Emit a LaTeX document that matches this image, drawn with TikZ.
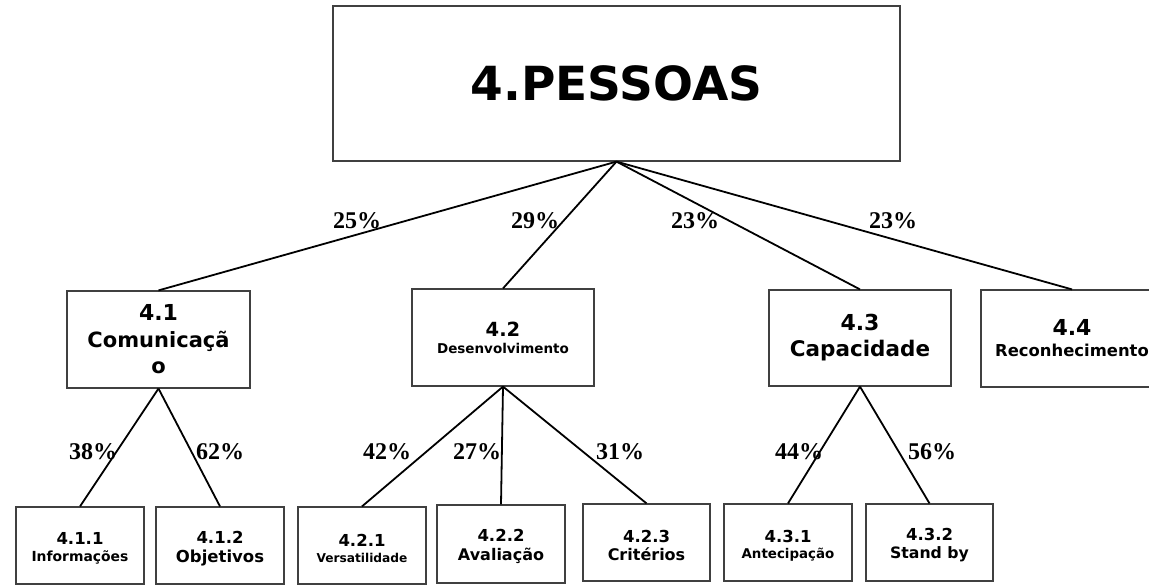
\documentclass[tikz,border=0pt]{standalone}
\usepackage{fontspec}
\setsansfont{DejaVu Sans}
\newfontfamily\pctfont{Liberation Serif}
\newcommand\fsz[2]{\fontsize{#1}{#2}\selectfont}
\newcommand\lift[1]{\rule{0pt}{#1pt}}

\begin{document}
\begin{tikzpicture}[x=1pt, y=-1pt,
    box/.style={draw=black!75, line width=1.2pt, align=center, inner sep=0pt},
    skip/.style={font=\sffamily\bfseries\fsz{12}{#1}},
    link/.style={line width=1.8pt},
    pct/.style={font=\pctfont\bfseries\fsz{24}{26}, inner sep=0pt}]
    \useasboundingbox (0,0) rectangle (1149,584);

    % Top box
    \node[box, skip=50, minimum width=567, minimum height=155] (pes) at (616.5,83.5) {\fsz{47}{50}4.PESSOAS};

    % Second level
    \node[box, skip=26.5, minimum width=183, minimum height=97] (c41) at (158.5,339.5) {\fsz{22}{26.5}4.1\\\fsz{21}{26.5}Comunicaçã\\\fsz{21}{26.5}o};
    \node[box, skip=17, minimum width=182, minimum height=97] (c42) at (503,337.5) {\fsz{19.5}{17}4.2\\\fsz{13.5}{17}Desenvolvimento};
    \node[box, skip=26, minimum width=182, minimum height=96] (c43) at (860,338) {\fsz{22}{26}4.3\\\fsz{21.5}{26}Capacidade};
    \node[box, skip=21, minimum width=182, minimum height=97] (c44) at (1072,338.5) {\fsz{22}{21}4.4\\\fsz{16.4}{21}Reconhecimento};

    % Third level
    \node[box, skip=17, minimum width=128, minimum height=77] (c411) at (80,545.5) {\fsz{16.5}{17}\lift{18}4.1.1\\\fsz{13.9}{17}Informações};
    \node[box, skip=19, minimum width=128, minimum height=77] (c412) at (220,545.5) {\fsz{16.5}{19}\lift{18}4.1.2\\\fsz{16.5}{19}Objetivos};
    \node[box, skip=16, minimum width=128, minimum height=77] (c421) at (362,545.5) {\fsz{16.5}{16}\lift{18}4.2.1\\\fsz{12.2}{16}Versatilidade};
    \node[box, skip=19, minimum width=128, minimum height=78] (c422) at (501,544) {\fsz{16.5}{19}\lift{18}4.2.2\\\fsz{16}{19}Avaliação};
    \node[box, skip=18, minimum width=127, minimum height=77] (c423) at (646.5,542.5) {\fsz{16.5}{18}\lift{18}4.2.3\\\fsz{16}{18}Critérios};
    \node[box, skip=16, minimum width=128, minimum height=77] (c431) at (788,542.5) {\fsz{16.5}{16}\lift{18}4.3.1\\\fsz{13.4}{16}Antecipação};
    \node[box, skip=18, minimum width=127, minimum height=77] (c432) at (929.5,542.5) {\fsz{16.5}{18}\lift{18}4.3.2\\\fsz{15.7}{18}Stand by};

    % Links
    \draw[link] (pes.south) -- (c41.north);
    \draw[link] (pes.south) -- (c42.north);
    \draw[link] (pes.south) -- (c43.north);
    \draw[link] (pes.south) -- (c44.north);
    \draw[link] (c41.south) -- (c411.north);
    \draw[link] (c41.south) -- (c412.north);
    \draw[link] (c42.south) -- (c421.north);
    \draw[link] (c42.south) -- (c422.north);
    \draw[link] (c42.south) -- (c423.north);
    \draw[link] (c43.south) -- (c431.north);
    \draw[link] (c43.south) -- (c432.north);

    % Weights
    \node[pct] (w41) at (357,221) {25\%};
    \node[pct] (w42) at (535,221) {29\%};
    \node[pct] (w43) at (695,221) {23\%};
    \node[pct] (w44) at (893,221) {23\%};
    \node[pct] (w411) at (93,452) {38\%};
    \node[pct] (w412) at (220,452) {62\%};
    \node[pct] (w421) at (387,452) {42\%};
    \node[pct] (w422) at (477,452) {27\%};
    \node[pct] (w423) at (620,452) {31\%};
    \node[pct] (w431) at (799,452) {44\%};
    \node[pct] (w432) at (932,452) {56\%};
\end{tikzpicture}
\end{document}
